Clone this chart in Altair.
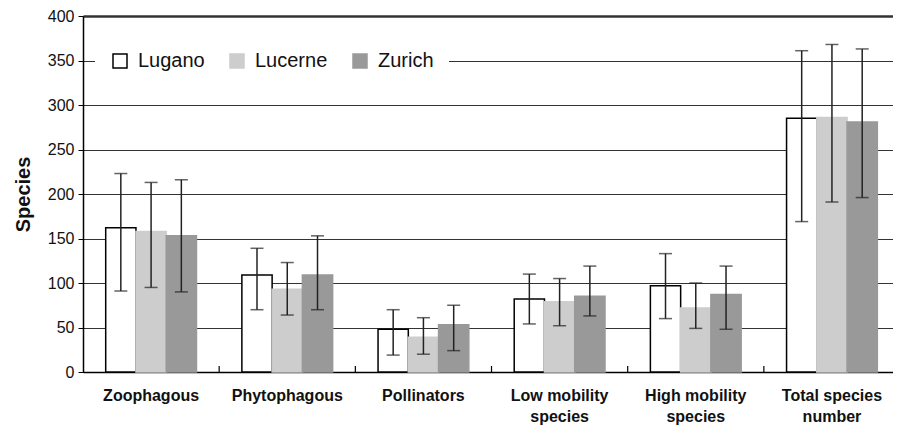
import altair as alt
import pandas as pd

categories = ["Zoophagous", "Phytophagous", "Pollinators",
              "Low mobility\nspecies", "High mobility\nspecies", "Total species\nnumber"]
cities = ["Lugano", "Lucerne", "Zurich"]

lugano_mean = [162, 109, 48, 82, 97, 285]
lugano_low = [91, 70, 19, 54, 60, 169]
lugano_high = [223, 139, 70, 110, 133, 361]

lucerne_mean = [158, 93, 39, 79, 72, 286]
lucerne_low = [95, 64, 20, 52, 49, 191]
lucerne_high = [213, 123, 61, 105, 100, 368]

zurich_mean = [153, 109, 53, 85, 87, 281]
zurich_low = [90, 70, 24, 63, 48, 196]
zurich_high = [216, 153, 75, 119, 119, 363]

fills = ["white", "#cdcdcd", "#999999"]
strokes = ["black", "#cdcdcd", "#999999"]

rows = []
for city, m, lo, hi in [("Lugano", lugano_mean, lugano_low, lugano_high),
                        ("Lucerne", lucerne_mean, lucerne_low, lucerne_high),
                        ("Zurich", zurich_mean, zurich_low, zurich_high)]:
    for c, mv, lv, hv in zip(categories, m, lo, hi):
        rows.append({"cat": c, "city": city, "mean": mv, "low": lv, "high": hv})
df = pd.DataFrame(rows)
bounds = pd.DataFrame({"cat": categories[1:]})

FONT = "Liberation Sans"

x_enc = alt.X("cat:N", sort=categories, title=None,
              scale=alt.Scale(paddingInner=0.3334, paddingOuter=0.1409, align=0.5916),
              axis=alt.Axis(labelExpr="split(datum.label, '\\n')", labelAngle=0,
                            labelFontSize=16, labelFontWeight="bold", labelColor="#111",
                            labelFont=FONT, labelPadding=15, labelLineHeight=21,
                            ticks=False, domainColor="black", domainWidth=1.5, grid=False))
xoff = alt.XOffset("city:N", sort=cities, scale=alt.Scale(paddingInner=0, paddingOuter=0))

y_scale = alt.Scale(domain=[0, 400], nice=False)

bars = alt.Chart(df).mark_bar(strokeWidth=1.5).encode(
    x=x_enc,
    xOffset=xoff,
    y=alt.Y("mean:Q", scale=y_scale, title="Species",
            axis=alt.Axis(values=list(range(0, 401, 50)), labelFontSize=16, labelFont=FONT,
                          labelColor="#111", tickSize=5, tickColor="black", labelPadding=4,
                          domainColor="black", domainWidth=1.5,
                          gridColor="#333333",
                          gridWidth={"condition": {"test": "datum.value === 400", "value": 2.5}, "value": 1},
                          titleFontSize=20, titleFont=FONT, titleFontWeight="bold",
                          titleColor="#111", titlePadding=14)),
    fill=alt.Fill("city:N", sort=cities, scale=alt.Scale(domain=cities, range=fills),
                  legend=alt.Legend(title=None, orient="none", legendX=12, legendY=20,
                                    direction="horizontal", fillColor="white", padding=15,
                                    labelFontSize=20, labelFont=FONT, labelColor="#111",
                                    symbolType="square", symbolSize=196, symbolStrokeWidth=1.5,
                                    columnPadding=22, labelOffset=8)),
    stroke=alt.Stroke("city:N", sort=cities, scale=alt.Scale(domain=cities, range=strokes)),
)

err = alt.Chart(df).mark_rule(color="#222", strokeWidth=1.5).encode(
    x=alt.X("cat:N", sort=categories), xOffset=xoff,
    y=alt.Y("low:Q", scale=y_scale), y2="high:Q")
cap_hi = alt.Chart(df).mark_tick(color="#222", thickness=1.5, size=13).encode(
    x=alt.X("cat:N", sort=categories), xOffset=xoff, y=alt.Y("high:Q", scale=y_scale))
cap_lo = alt.Chart(df).mark_tick(color="#222", thickness=1.5, size=13).encode(
    x=alt.X("cat:N", sort=categories), xOffset=xoff, y=alt.Y("low:Q", scale=y_scale))

sep = alt.Chart(bounds).mark_rule(color="black", strokeWidth=1.2, xOffset=-22.7).encode(
    x=alt.X("cat:N", sort=categories, bandPosition=0),
    y=alt.value(356), y2=alt.value(350))

chart = alt.layer(bars, err, cap_hi, cap_lo, sep).resolve_scale(
    fill="shared", stroke="shared"
).properties(
    width=810, height=356,
    autosize=alt.AutoSizeParams(type="none"),
    padding={"left": 75, "top": 8, "right": 0, "bottom": 54},
    background="white",
).configure_view(stroke="#bbbbbb", strokeWidth=1)

chart.save("out.html", embed_options={"renderer": "svg", "actions": False})
